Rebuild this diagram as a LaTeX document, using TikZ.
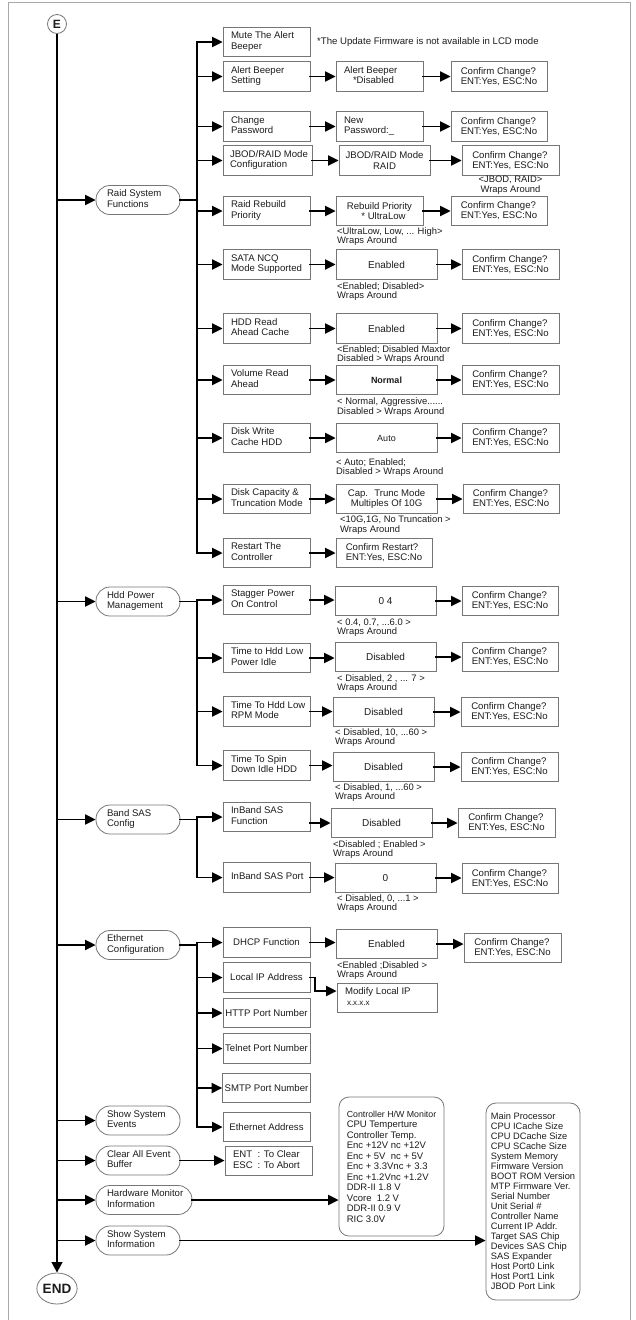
\documentclass[tikz,border=0pt]{standalone}
\usepackage{fontspec}
\setmainfont{Liberation Sans}
\usetikzlibrary{arrows.meta,shapes.geometric}
\definecolor{ink}{HTML}{1C1C1C}
\definecolor{edge}{HTML}{767676}
\definecolor{framec}{HTML}{A8A8A8}
% left-aligned multi-line text in a box of fixed width
\newcommand{\ltext}[2][71pt]{\makebox[#1][l]{\begin{tabular}{@{}l@{}}#2\end{tabular}}}

\begin{document}
\begin{tikzpicture}[x=1pt,y=-1pt,
  every node/.style={font=\fontsize{9.6}{10.2}\selectfont, text=ink},
  conn/.style={line width=1.9pt, draw=black, line cap=rect},
  arr/.style={conn, -{Triangle[length=10.5pt,width=10pt]}},
  menu/.style={draw=edge, line width=0.8pt, rounded corners=14pt, minimum width=84pt, minimum height=29pt, inner xsep=11pt, inner ysep=0pt},
  item/.style={draw=edge, line width=0.8pt, minimum width=87pt, minimum height=29.5pt, inner xsep=8pt, inner ysep=0pt},
  itemc/.style={item, inner xsep=2pt, align=center},
  valbox/.style={draw=edge, line width=0.8pt, minimum width=101pt, minimum height=29.5pt, inner xsep=2pt, inner ysep=0pt, align=center},
  ask/.style={draw=edge, line width=0.8pt, minimum width=96pt, minimum height=29.5pt, inner xsep=2pt, inner ysep=0pt, align=left},
  note/.style={anchor=west, inner sep=0pt, align=left, font=\fontsize{9.4}{9.6}\selectfont},
  val/.style={font=\fontsize{10}{11}\selectfont},
]
\useasboundingbox (0,0) rectangle (635,1320);
\draw[framec, line width=0.8pt] (8,1320) -- (8,2) -- (630,2) -- (630,1320);

% start and end marks
\node[circle, draw=edge, line width=0.8pt, minimum size=19pt, inner sep=0pt, font=\bfseries\fontsize{12}{12}\selectfont] (E) at (57,24) {E};
\node[ellipse, draw=edge, line width=0.8pt, minimum width=39pt, minimum height=31pt, inner sep=0pt, font=\bfseries\fontsize{13.5}{14}\selectfont] (END) at (57,1288.5) {END};
\draw[conn, line width=2.4pt, line cap=butt, -{Triangle[length=10.5pt,width=10.5pt]}] (E) -- (END);

% main menu entries
\node[menu] (raid) at (138,200) {\ltext[62pt]{Raid System\\Functions}};
\node[menu] (hpm) at (138,601.5) {\ltext[62pt]{Hdd Power\\Management}};
\node[menu] (bsas) at (138,819.5) {\ltext[62pt]{Band SAS\\Config}};
\node[menu] (eth) at (138,945) {\ltext[62pt]{Ethernet\\Configuration}};
\node[menu] (sevt) at (138,1120.5) {\ltext[62pt]{Show System\\Events}};
\node[menu] (clr) at (138,1160.5) {\ltext[62pt]{Clear All Event\\Buffer}};
\node[menu, minimum width=96pt] (hwm) at (144,1200) {\ltext[74pt]{Hardware Monitor\\Information}};
\node[menu] (ssi) at (138,1240.5) {\ltext[62pt]{Show System\\Information}};
\foreach \n in {raid,hpm,bsas,eth,sevt,clr,hwm,ssi}
  \draw[arr] (\n.west -| E) -- (\n.west);

% trunk positions
\coordinate (T) at (197,0);

% ---------------- Raid System Functions ----------------
\node[item] (mute) at (266.5,42) {\ltext{Mute The Alert\\Beeper}};
\node[item] (abs) at (266.5,76.5) {\ltext{Alert Beeper\\Setting}};
\node[item] (cpw) at (266.5,126.5) {\ltext{Change\\Password}};
\node[item, minimum width=89pt, inner xsep=7pt] (jbod) at (267.5,160.5) {\ltext[75pt]{JBOD/RAID Mode\\Configuration}};
\node[item] (rrp) at (266.5,211) {\ltext{Raid Rebuild\\Priority}};
\node[item] (ncq) at (266.5,264.5) {\ltext{SATA NCQ\\Mode Supported}};
\node[item] (hra) at (266.5,328.5) {\ltext{HDD Read\\Ahead Cache}};
\node[item] (vra) at (266.5,380) {\ltext{Volume Read\\Ahead}};
\node[item] (dwc) at (266.5,438) {\ltext{Disk Write\\Cache HDD}};
\node[item] (dct) at (266.5,499) {\ltext{Disk Capacity \&\\Truncation Mode}};
\node[item] (rst) at (266.5,553) {\ltext{Restart The\\Controller}};
\draw[conn] (raid.east) -- (raid.east -| T);
\draw[conn] (mute.west -| T) -- (rst.west -| T);
\foreach \n in {mute,abs,cpw,jbod,rrp,ncq,hra,vra,dwc,dct,rst}
  \draw[arr] (\n.west -| T) -- (\n.west);

\node[anchor=west, inner sep=0pt] (fwnote) at (317,42) {*The Update Firmware is not available in LCD mode};

\node[item] (abv) at (379.5,76.5) {\ltext{Alert Beeper\\\hspace*{9pt}*Disabled}};
\node[ask] (abc) at (499,76.5) {Confirm Change?\\ENT:Yes, ESC:No};
\node[item] (npw) at (379.5,126.5) {\ltext{New\\Password:\_}};
\node[ask] (npc) at (499,126.5) {Confirm Change?\\ENT:Yes, ESC:No};
\node[valbox, minimum width=91pt] (jrm) at (384.5,160.5) {JBOD/RAID Mode\\RAID};
\node[ask, minimum width=97pt] (jrc) at (510.5,160.5) {Confirm Change?\\ENT:Yes, ESC:No};
\node[note, anchor=center, align=center] (jrn) at (510.5,185) {<JBOD, RAID>\\Wraps Around};
\node[valbox, minimum width=87pt] (rpv) at (379.5,211) {Rebuild Priority\\\hspace*{8pt}* UltraLow};
\node[ask] (rpc) at (499,211) {Confirm Change?\\ENT:Yes, ESC:No};
\node[note] (rpn) at (337,236.5) {<UltraLow, Low, ... High>\\Wraps Around};
\node[valbox, val] (ncv) at (386.5,264.5) {Enabled};
\node[ask, minimum width=97pt] (ncc) at (510.5,264.5) {Confirm Change?\\ENT:Yes, ESC:No};
\node[note] (ncn) at (337,291.5) {<Enabled; Disabled>\\Wraps Around};
\node[valbox, val] (hrv) at (386.5,328.5) {Enabled};
\node[ask, minimum width=97pt] (hrc) at (510.5,328.5) {Confirm Change?\\ENT:Yes, ESC:No};
\node[note] (hrn) at (337,354.5) {<Enabled; Disabled Maxtor\\Disabled > Wraps Around};
\node[valbox, font=\bfseries\fontsize{9}{10}\selectfont] (vrv) at (386.5,380) {Normal};
\node[ask, minimum width=97pt] (vrc) at (510.5,380) {Confirm Change?\\ENT:Yes, ESC:No};
\node[note] (vrn) at (337,407) {< Normal, Aggressive......\\Disabled > Wraps Around};
\node[valbox, font=\fontsize{9}{10}\selectfont] (dwv) at (386.5,438) {Auto};
\node[ask, minimum width=97pt] (dwq) at (510.5,438) {Confirm Change?\\ENT:Yes, ESC:No};
\node[note] (dwn) at (336,467.5) {< Auto; Enabled;\\Disabled > Wraps Around};
\node[valbox] (dcv) at (386.5,499) {Cap.~ Trunc Mode\\Multiples Of 10G};
\node[ask] (dcc) at (511,499) {Confirm Change?\\ENT:Yes, ESC:No};
\node[note] (dcn) at (340,525) {<10G,1G, No Truncation >\\Wraps Around};
\node[ask] (rsc) at (384,553) {Confirm Restart?\\ENT:Yes, ESC:No};

\foreach \a/\b in {abs/abv,cpw/npw,jbod/jrm,rrp/rpv,ncq/ncv,hra/hrv,vra/vrv,dwc/dwv,dct/dcv,rst/rsc,
                   abv/abc,npw/npc,jrm/jrc,rpv/rpc,ncv/ncc,hrv/hrc,vrv/vrc,dwv/dwq,dcv/dcc}
  \draw[arr] (\a.east) -- (\b.west |- \a.east);

% ---------------- Hdd Power Management ----------------
\node[item] (stg) at (266.5,600) {\ltext{Stagger Power\\On Control}};
\node[item] (tlp) at (266.5,658) {\ltext{Time to Hdd Low\\Power Idle}};
\node[item] (trpm) at (266.5,711.5) {\ltext{Time To Hdd Low\\RPM Mode}};
\node[item] (tsd) at (266.5,765.5) {\ltext{Time To Spin\\Down Idle HDD}};
\draw[conn] (hpm.east) -- (hpm.east -| T);
\draw[conn] (stg.west -| T) -- (tsd.west -| T);
\foreach \n in {stg,tlp,trpm,tsd}
  \draw[arr] (\n.west -| T) -- (\n.west);

\node[valbox, val] (stv) at (385.5,601) {0 4};
\node[ask] (stc) at (510,601) {Confirm Change?\\ENT:Yes, ESC:No};
\node[note] (stn) at (337,627.5) {< 0.4, 0.7, ...6.0 >\\Wraps Around};
\node[valbox, val] (tlv) at (385.5,657) {Disabled};
\node[ask] (tlc) at (510,657) {Confirm Change?\\ENT:Yes, ESC:No};
\node[note] (tln) at (337,683.5) {<\ Disabled, 2 , ... 7 >\\Wraps Around};
\node[valbox, val] (trv) at (383.5,712) {Disabled};
\node[ask, minimum width=97pt] (trc) at (509.5,712) {Confirm Change?\\ENT:Yes, ESC:No};
\node[note] (trn) at (335,737.5) {<\ Disabled, 10, ...60 >\\Wraps Around};
\node[valbox, val] (tsv) at (383.5,767) {Disabled};
\node[ask, minimum width=97pt] (tsc) at (509.5,767) {Confirm Change?\\ENT:Yes, ESC:No};
\node[note] (tsn) at (335,792.5) {< Disabled, 1, ...60 >\\Wraps Around};

\foreach \a/\b in {stg/stv,tlp/tlv,trpm/trv,tsd/tsv,stv/stc,tlv/tlc,trv/trc,tsv/tsc}
  \draw[arr] (\a.east) -- (\b.west |- \a.east);

% ---------------- Band SAS Config ----------------
\node[item] (isf) at (266.5,817) {\ltext{InBand SAS\\Function}};
\node[item] (isp) at (266.5,877.5) {\ltext{InBand SAS Port}};
\draw[conn] (bsas.east) -- (bsas.east -| T);
\draw[conn] (isf.west -| T) -- (isp.west -| T);
\foreach \n in {isf,isp}
  \draw[arr] (\n.west -| T) -- (\n.west);

\node[valbox, val] (isfv) at (381.5,823) {Disabled};
\node[ask, minimum width=97pt] (isfc) at (506.5,823) {Confirm Change?\\ENT:Yes, ESC:No};
\node[note] (isfn) at (333,849.5) {<Disabled ; Enabled >\\Wraps Around};
\node[valbox, val] (ispv) at (385.5,878) {0};
\node[ask] (ispc) at (510,878.5) {Confirm Change?\\ENT:Yes, ESC:No};
\node[note] (ispn) at (337,903.5) {< Disabled, 0, ...1 >\\Wraps Around};

\draw[arr] (isf.east |- isfv.west) -- (isfv.west);
\draw[arr] (isfv.east) -- (isfc.west |- isfv.east);
\draw[arr] (isp.east) -- (ispv.west |- isp.east);
\draw[arr] (ispv.east) -- (ispc.west |- ispv.east);

% ---------------- Ethernet Configuration ----------------
\node[itemc] (dhcp) at (266.5,942.5) {DHCP Function};
\node[itemc] (lip) at (266.5,977.5) {Local IP Address};
\node[itemc] (http) at (266.5,1013) {HTTP Port Number};
\node[itemc] (tel) at (266.5,1048.5) {Telnet Port Number};
\node[itemc] (smtp) at (266.5,1088) {SMTP Port Number};
\node[itemc] (ead) at (266.5,1127) {Ethernet Address};
\draw[conn] (eth.east) -- (eth.east -| T);
\draw[conn] (dhcp.west -| T) -- (ead.west -| T);
\foreach \n in {dhcp,lip,http,tel,smtp,ead}
  \draw[arr] (\n.west -| T) -- (\n.west);

\node[valbox, val] (dhv) at (386.5,944) {Enabled};
\node[ask, minimum width=97pt] (dhc) at (512.5,948) {Confirm Change?\\ENT:Yes, ESC:No};
\node[note] (dhn) at (337,970.5) {<Enabled ;Disabled >\\Wraps Around};
\node[item, minimum width=100pt] (mlip) at (387,998) {\ltext[84pt]{Modify Local IP\\\hspace*{2pt}{\fontsize{8}{10}\selectfont x.x.x.x}}};
\draw[arr] (dhcp.east) -- (dhv.west |- dhcp.east);
\draw[arr] (dhv.east) -- (dhc.west |- dhv.east);
\coordinate (lipk) at (315,991);
\draw[arr] (lip.east) -| (lipk) -- (mlip.west |- lipk);

% ---------------- Event buffer ----------------
\node[item] (cbb) at (268.5,1161) {\makebox[71pt][l]{\begin{tabular}{@{}l@{\hspace{5pt}}l@{}}ENT & : To Clear\\ESC & : To Abort\end{tabular}}};
\draw[arr] (clr.east) -- (cbb.west |- clr.east);

% ---------------- Hardware monitor ----------------
\node[draw=edge, line width=0.8pt, rounded corners=10pt, minimum width=105pt, minimum height=139pt, inner sep=0pt, align=left, font=\fontsize{9.5}{10.5}\selectfont] (hwb) at (391.5,1166.5)
  {{\fontsize{8.8}{10.5}\selectfont Controller H/W Monitor}\\CPU Temperture\\Controller Temp.\\Enc +12V nc +12V\\Enc + 5V\ \ nc + 5V\\Enc + 3.3Vnc + 3.3\\Enc +1.2Vnc +1.2V\\DDR-II 1.8 V\\Vcore\ \ 1.2 V\\DDR-II 0.9 V\\RIC 3.0V};
\draw[arr] (hwm.east) -- (hwb.west |- hwm.east);

% ---------------- System information ----------------
\node[draw=edge, line width=0.8pt, rounded corners=10pt, minimum width=94pt, minimum height=197pt, inner sep=0pt, align=left, font=\fontsize{9.3}{10}\selectfont] (ssb) at (533,1201.5)
  {Main Processor\\CPU ICache Size\\CPU DCache Size\\CPU SCache Size\\System Memory\\Firmware Version\\BOOT ROM Version\\MTP Firmware Ver.\\Serial Number\\Unit Serial \#\\Controller Name\\Current IP Addr.\\Target SAS Chip\\Devices SAS Chip\\SAS Expander\\Host Port0 Link\\Host Port1 Link\\JBOD Port Link};
\draw[arr] (ssi.east) -- (ssb.west |- ssi.east);
\end{tikzpicture}
\end{document}
